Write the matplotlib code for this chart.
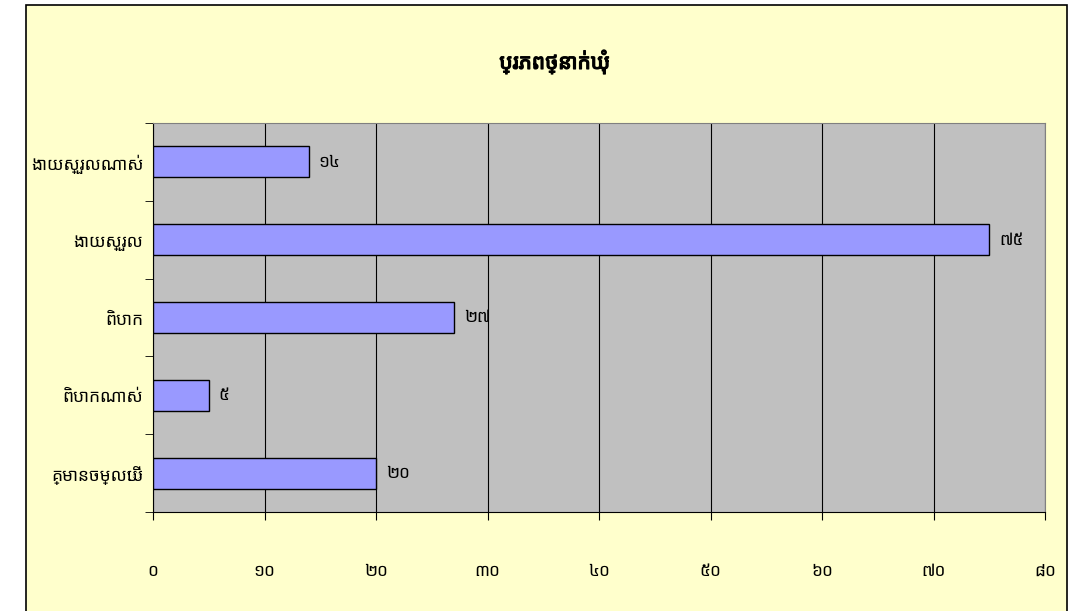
import matplotlib
matplotlib.use("Agg")
import matplotlib.pyplot as plt
import matplotlib.patheffects as pe
from matplotlib import font_manager
from matplotlib.patches import Rectangle

# data (top to bottom as shown)
categories = ["ងាយស្រួលណាស់", "ងាយស្រួល", "ពិបាក", "ពិបាកណាស់", "គ្មានចម្លើយ"]
values = [14, 75, 27, 5, 20]
value_labels = ["១៤", "៧៥", "២៧", "៥", "២០"]
x_ticks = [0, 10, 20, 30, 40, 50, 60, 70, 80]
x_tick_labels = ["០", "១០", "២០", "៣០", "៤០", "៥០", "៦០", "៧០", "៨០"]
title = "ប្រភពថ្នាក់ឃុំ"

# pick a Khmer-capable font if one exists
installed = {f.name for f in font_manager.fontManager.ttflist}
families = [f for f in ["Noto Sans Khmer", "Noto Serif Khmer", "Khmer OS", "Khmer OS System",
                        "Hanuman", "Battambang", "Kantumruy", "DaunPenh", "Khmer UI"] if f in installed]
plt.rcParams["font.family"] = families + ["DejaVu Sans"]

fig = plt.figure(figsize=(10.7, 6.11), dpi=100)
fig.patch.set_facecolor("white")
fig.patches.append(Rectangle((26 / 1070, -0.01), 1041 / 1070, 1 - 5 / 611 + 0.01,
                             transform=fig.transFigure, facecolor="#FFFFCC",
                             edgecolor="black", linewidth=1.2, zorder=-1))

ax = fig.add_axes([153 / 1070, 1 - 512 / 611, 892 / 1070, 389 / 611])
ax.set_facecolor("#C0C0C0")

ypos = list(range(len(categories)))[::-1]
ax.barh(ypos, values, height=0.4, color="#9999FF", edgecolor="black", linewidth=1, zorder=3)
for y, v, lab in zip(ypos, values, value_labels):
    ax.annotate(lab, (v, y), xytext=(7, 0), textcoords="offset points",
                va="center", ha="left", fontsize=12.5)

ax.set_xlim(0, 80)
ax.set_ylim(-0.5, len(categories) - 0.5)
ax.set_xticks(x_ticks)
ax.set_xticklabels(x_tick_labels, fontsize=12.5)
ax.set_yticks(ypos)
ax.set_yticklabels(categories, fontsize=12.5)
ax.set_yticks([i - 0.5 for i in range(len(categories) + 1)], minor=True)
ax.tick_params(axis="y", which="major", length=0, pad=7)
ax.tick_params(axis="y", which="minor", length=6, direction="out")
ax.tick_params(axis="x", length=6, direction="out", pad=30)
ax.grid(axis="x", color="black", linewidth=0.8, zorder=1)
ax.set_axisbelow(True)
for side in ["top", "right"]:
    ax.spines[side].set_color("#808080")
for side in ["left", "bottom"]:
    ax.spines[side].set_color("black")

# the Khmer font has no bold face, so thicken the title with a stroke
fig.text(0.5185, 1 - 62 / 611, title, ha="center", va="center", fontsize=15, fontweight="bold",
         path_effects=[pe.withStroke(linewidth=0.9, foreground="black")])

fig.savefig("out.png", dpi=100)
